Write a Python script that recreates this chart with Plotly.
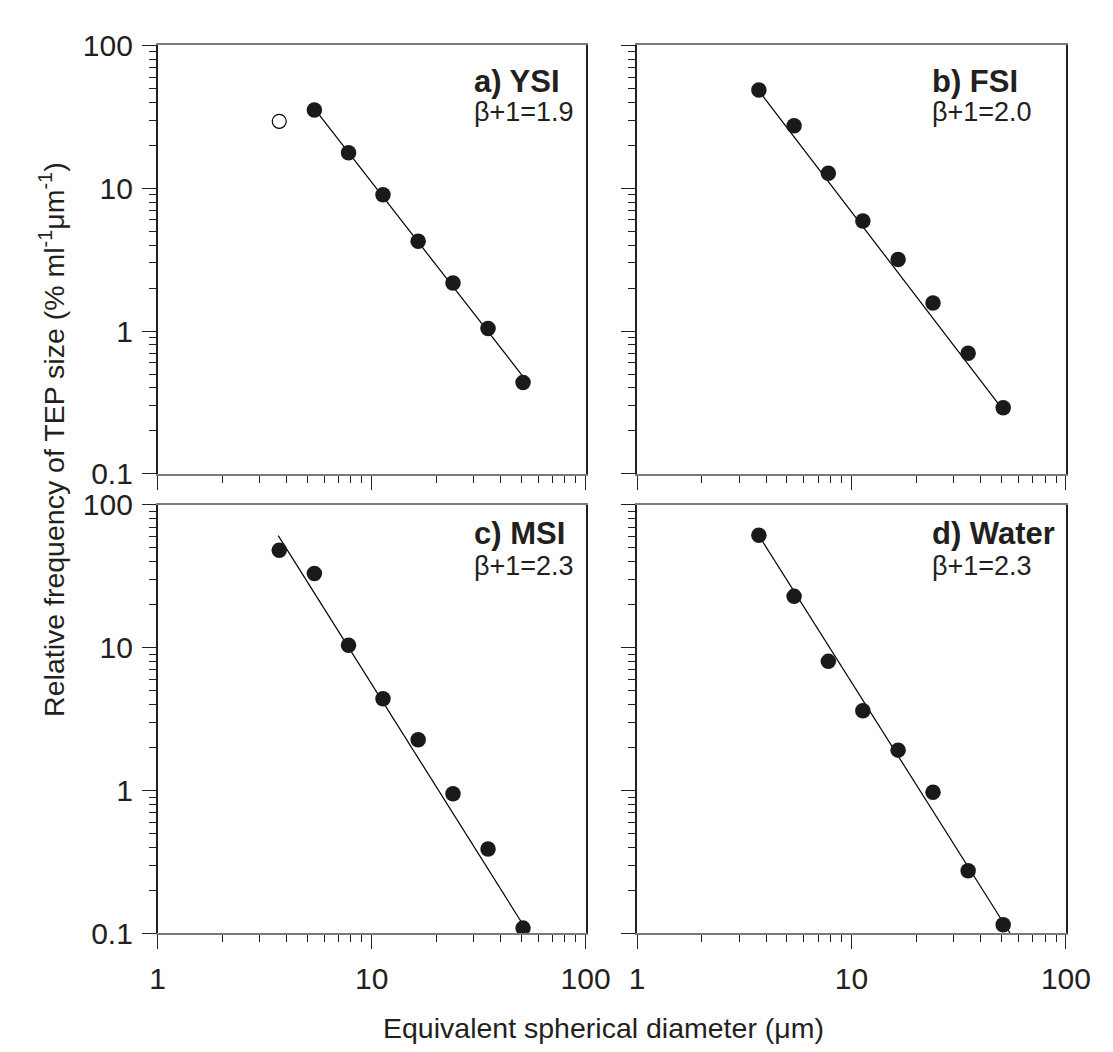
import plotly.graph_objects as go

# ---------------- data ----------------
diam = [3.7, 5.4, 7.8, 11.3, 16.5, 24, 35, 51]

ysi_open_x = [3.7]
ysi_open_y = [29.4]
ysi_x = [5.4, 7.8, 11.3, 16.5, 24, 35, 51]
ysi_y = [35.3, 17.7, 9.0, 4.25, 2.17, 1.04, 0.436]
fsi_y = [48.7, 27.4, 12.7, 5.9, 3.17, 1.57, 0.70, 0.29]
msi_y = [48.2, 33.1, 10.4, 4.39, 2.27, 0.95, 0.39, 0.109]
water_y = [61.3, 22.9, 8.03, 3.62, 1.92, 0.975, 0.275, 0.115]

ysi_fit_x = [5.4, 51]
ysi_fit_y = [36, 0.48]
fsi_fit_x = [3.7, 51]
fsi_fit_y = [48, 0.28]
msi_fit_x = [3.66, 50.5]
msi_fit_y = [61, 0.118]
water_fit_x = [3.7, 55]
water_fit_y = [61, 0.1]

panel_titles = ["a) YSI", "b) FSI", "c) MSI", "d) Water"]
panel_betas = ["β+1=1.9", "β+1=2.0", "β+1=2.3", "β+1=2.3"]

x_tickvals = [1, 10, 100]
x_ticktext = ["1", "10", "100"]
y_tickvals = [0.1, 1, 10, 100]
y_ticktext = ["0.1", "1", "10", "100"]
minor_x = [m * d for d in (1, 10) for m in range(2, 10)]
minor_y = [m * d for d in (0.1, 1, 10) for m in range(2, 10)]

FONT = "Liberation Sans, Arial, Helvetica, sans-serif"
TXT = "#231f20"
W, H = 1113, 1052

# panel pixel boxes (left, right, top, bottom)
boxes = [(146, 587, 22, 464), (640, 1082, 22, 464),
         (146, 587, 496, 938), (640, 1082, 496, 938)]
# label placement inside each panel (x fraction of left edge, title y, beta y)
label_pos = [(0.735, 0.916, 0.844), (0.683, 0.916, 0.844),
             (0.735, 0.934, 0.858), (0.683, 0.934, 0.858)]

fig = go.Figure()

series = [
    (ysi_fit_x, ysi_fit_y, ysi_x, ysi_y),
    (fsi_fit_x, fsi_fit_y, diam, fsi_y),
    (msi_fit_x, msi_fit_y, diam, msi_y),
    (water_fit_x, water_fit_y, diam, water_y),
]

for i, (fx, fy, px, py) in enumerate(series):
    xa = "x" if i == 0 else f"x{i+1}"
    ya = "y" if i == 0 else f"y{i+1}"
    fig.add_trace(go.Scatter(x=fx, y=fy, mode="lines", xaxis=xa, yaxis=ya,
                             line=dict(color="black", width=1.2), showlegend=False,
                             hoverinfo="skip"))
    fig.add_trace(go.Scatter(x=px, y=py, mode="markers", xaxis=xa, yaxis=ya,
                             marker=dict(color="#1a1a1a", size=15.5, line=dict(width=0)),
                             showlegend=False))
    if i == 0:
        fig.add_trace(go.Scatter(x=ysi_open_x, y=ysi_open_y, mode="markers", xaxis=xa, yaxis=ya,
                                 marker=dict(color="white", size=14,
                                             line=dict(color="black", width=1.2)),
                                 showlegend=False))

layout = dict(width=W, height=H, margin=dict(l=0, r=0, t=0, b=0),
              plot_bgcolor="white", paper_bgcolor="white",
              font=dict(family=FONT, color=TXT), showlegend=False)

for i, (l, r, t, b) in enumerate(boxes):
    xkey = "xaxis" if i == 0 else f"xaxis{i+1}"
    ykey = "yaxis" if i == 0 else f"yaxis{i+1}"
    xref = "x" if i == 0 else f"x{i+1}"
    yref = "y" if i == 0 else f"y{i+1}"
    layout[xkey] = dict(
        type="log", range=[0, 2], domain=[l / W, r / W], anchor=yref,
        tickvals=x_tickvals, ticktext=x_ticktext, showticklabels=(i >= 2),
        ticks="outside", ticklen=14, tickwidth=1, tickcolor=TXT,
        showgrid=False, zeroline=False, showline=True, linecolor="#7a7a7a",
        linewidth=2, mirror=True, ticklabelstandoff=4,
        tickfont=dict(size=30, family=FONT, color=TXT),
        minor=dict(tickvals=minor_x, ticks="outside", ticklen=7, tickwidth=1,
                   tickcolor=TXT, showgrid=False),
    )
    layout[ykey] = dict(
        type="log", range=[-1, 2], domain=[1 - b / H, 1 - t / H], anchor=xref,
        tickvals=y_tickvals, ticktext=y_ticktext, showticklabels=(i % 2 == 0),
        ticks="outside", ticklen=14, tickwidth=1, tickcolor=TXT,
        showgrid=False, zeroline=False, showline=True, linecolor=TXT,
        linewidth=1.5, mirror=True, ticklabelstandoff=3,
        tickfont=dict(size=30, family=FONT, color=TXT),
        minor=dict(tickvals=minor_y, ticks="outside", ticklen=7, tickwidth=1,
                   tickcolor=TXT, showgrid=False),
    )

annotations = []
for i in range(4):
    xref = "x domain" if i == 0 else f"x{i+1} domain"
    yref = "y domain" if i == 0 else f"y{i+1} domain"
    lx, ty, by = label_pos[i]
    annotations.append(dict(text=f"<b>{panel_titles[i]}</b>", xref=xref, yref=yref,
                            x=lx, y=ty, xanchor="left", yanchor="middle",
                            showarrow=False, font=dict(size=31, family=FONT, color=TXT)))
    annotations.append(dict(text=panel_betas[i], xref=xref, yref=yref,
                            x=lx, y=by, xanchor="left", yanchor="middle",
                            showarrow=False, font=dict(size=27, family=FONT, color=TXT)))

annotations.append(dict(text="Equivalent spherical diameter (μm)", xref="paper", yref="paper",
                        x=605 / W, y=1 - 1036 / H, xanchor="center", yanchor="middle",
                        showarrow=False, font=dict(size=28.5, family=FONT, color=TXT)))
annotations.append(dict(text="Relative frequency of TEP size (% ml<sup>-1</sup>μm<sup>-1</sup>)",
                        xref="paper", yref="paper", x=37 / W, y=1 - 428 / H,
                        xanchor="center", yanchor="middle", textangle=-90,
                        showarrow=False, font=dict(size=28.5, family=FONT, color=TXT)))
layout["annotations"] = annotations

fig.update_layout(**layout)
fig.write_html("out.html")
